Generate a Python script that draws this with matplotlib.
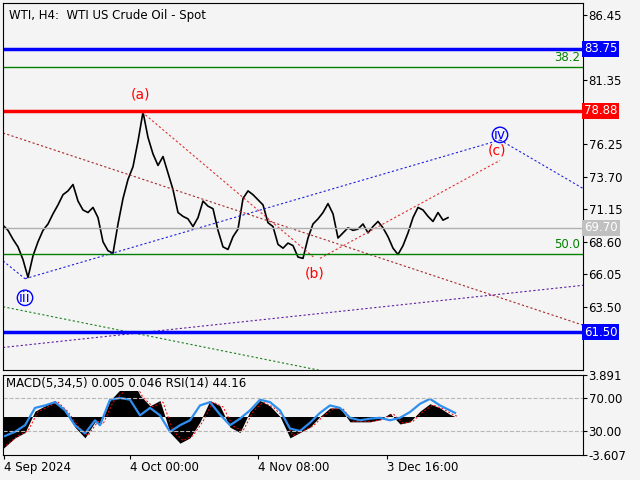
import matplotlib.pyplot as plt

# price closes, one value every 5 H4 bars
closes = [69.9, 69.5, 68.8, 68.2, 67.2, 65.8, 67.5, 68.6, 69.5, 70.0, 70.8, 71.5, 72.3, 72.6, 73.1,
          71.8, 71.1, 70.9, 71.3, 70.5, 68.6, 67.9, 67.7, 70.0, 72.0, 73.5, 74.5, 76.5, 78.8, 76.8,
          75.5, 74.6, 75.3, 74.0, 72.7, 70.9, 70.6, 70.4, 69.8, 70.5, 71.8, 71.4, 71.2, 69.5, 68.2,
          68.0, 69.0, 69.6, 72.0, 72.6, 72.3, 71.9, 71.5, 70.1, 69.8, 68.4, 68.1, 68.5, 68.3, 67.4,
          67.3, 68.9, 70.0, 70.4, 70.9, 71.6, 70.8, 68.9, 69.3, 69.7, 69.5, 69.6, 70.0, 69.3, 69.8,
          70.2, 69.7, 69.0, 68.1, 67.6, 68.3, 69.3, 70.5, 71.3, 71.1, 70.6, 70.2, 70.9, 70.3, 70.5]
close_step = 5

rsi_x = [0, 12, 22, 32, 42, 52, 62, 72, 82, 92, 97, 107, 117, 127, 137, 147, 157, 167, 177, 187,
         197, 207, 217, 227, 237, 247, 257, 267, 277, 287, 297, 307, 317, 327, 337, 347, 357, 367,
         377, 387, 397, 407, 417, 427, 437, 447, 452]
rsi = [23, 29, 37, 58, 61, 65, 55, 37, 27, 43, 37, 68, 70, 68, 49, 58, 49, 29, 37, 43,
       61, 65, 50, 37, 45, 55, 68, 65, 55, 33, 30, 40, 52, 61, 58, 46, 43, 45,
       46, 43, 46, 53, 63, 69, 61, 55, 52]
macd = [-3.0, -2.0, -1.5, 0.5, 1.0, 1.5, 0.5, -1.0, -2.0, -0.5, -0.8, 1.5, 2.5, 3.8, 2.0, 1.0, 1.5, -1.5, -2.5, -2.0,
        -0.5, 1.5, 1.0, -1.0, -1.5, 0.5, 1.5, 1.0, 0.0, -2.0, -1.5, -1.0, 0.0, 0.8, 0.8, -0.5, -0.5, -0.5,
        -0.3, 0.3, -0.7, -0.5, 0.5, 1.2, 0.8, 0.2, 0.0]

# wave lines: (bar, price) endpoints
wave_lines = [
    ((0, 77.15), (582, 62.0), '#a52a2a', (0, (2, 2))),
    ((139, 78.8), (312, 67.3), '#e03030', (0, (2, 2))),
    ((317, 67.3), (497, 75.0), '#e03030', (0, (2, 2))),
    ((22, 65.7), (497, 76.6), '#2020e0', (0, (2, 2))),
    ((497, 76.6), (582, 72.7), '#2020e0', (0, (2, 2))),
    ((0, 67.1), (22, 65.7), '#2020e0', (0, (2, 2))),
    ((0, 60.3), (582, 65.2), '#6020a0', (0, (2, 2))),
    ((0, 63.5), (317, 58.5), '#208020', (0, (2, 2))),
]
hlines = [(83.75, 'blue', 2.5), (78.88, 'red', 2.5), (61.50, 'blue', 2.5),
          (82.34, 'green', 1), (67.65, 'green', 1), (69.70, '#b0b0b0', 1)]
price_ticks = [86.45, 81.35, 76.25, 73.70, 71.15, 68.60, 66.05, 63.50]
boxes = [(83.75, 'blue', 'white'), (78.88, 'red', 'white'), (69.70, '#c0c0c0', 'white'), (61.50, 'blue', 'white')]
date_pos = [1, 127, 255, 384]
date_labels = ['4 Sep 2024', '4 Oct 00:00', '4 Nov 08:00', '3 Dec 16:00']

bg = '#f4f4f4'
fig = plt.figure(figsize=(6.4, 4.8), dpi=100, facecolor=bg)
ax = fig.add_axes([3/640, 110/480, 580/640, 367/480], facecolor=bg)
ax2 = fig.add_axes([3/640, 25/480, 580/640, 80/480], facecolor=bg)

xs = [i * close_step for i in range(len(closes))]
ax.plot(xs, closes, color='black', lw=1.2)
for (x0, y0), (x1, y1), c, ls in wave_lines:
    ax.plot([x0, x1], [y0, y1], color=c, lw=0.8, ls=ls)
for y, c, w in hlines:
    ax.axhline(y, color=c, lw=w)
ax.set_xlim(0, 580)
ax.set_ylim(58.53, 87.36)
ax.yaxis.tick_right()
ax.set_yticks(price_ticks)
ax.tick_params(axis='y', labelsize=8.5, length=3, pad=1)
ax.set_xticks([])
for y, fc, tc in boxes:
    ax.text(1.002, y, f'{y:.2f}', transform=ax.get_yaxis_transform(), fontsize=8.5, color=tc,
            va='center', ha='left', bbox=dict(boxstyle='square,pad=0.15', fc=fc, ec='none'))
ax.text(0.995, 82.55, '38.2', transform=ax.get_yaxis_transform(), color='green', fontsize=8.5, ha='right', va='bottom')
ax.text(0.995, 67.85, '50.0', transform=ax.get_yaxis_transform(), color='green', fontsize=8.5, ha='right', va='bottom')
ax.text(0.01, 0.985, 'WTI, H4:  WTI US Crude Oil - Spot', transform=ax.transAxes, fontsize=8.5, va='top')
ax.text(137, 79.6, '(a)', color='red', fontsize=10, ha='center', va='bottom')
ax.text(312, 65.6, '(b)', color='red', fontsize=10, ha='center', va='bottom')
ax.text(494, 75.2, '(c)', color='red', fontsize=10, ha='center', va='bottom')
ax.text(497, 77.0, 'iv', color='blue', fontsize=10, ha='center', va='center',
        bbox=dict(boxstyle='circle,pad=0.05', fc='none', ec='blue'))
ax.text(22, 64.2, 'iii', color='blue', fontsize=10, ha='center', va='center',
        bbox=dict(boxstyle='circle,pad=0.05', fc='none', ec='blue'))

# lower panel in RSI units; MACD mapped on its own scale
lo, hi = 0.9, 97.9
mlo, mhi = -3.607, 3.891
def m2r(v):
    return lo + (v - mlo) / (mhi - mlo) * (hi - lo)
base = m2r(0)
mv = [m2r(v) for v in macd]
ax2.fill_between(rsi_x, base, mv, color='black', lw=0)
ax2.plot([x + 3 for x in rsi_x], [m2r(v * 0.9) for v in macd], color='red', lw=0.7, ls=(0, (2, 2)))
ax2.plot(rsi_x, rsi, color='#2e8ff0', lw=1.6)
for y in (70, 30):
    ax2.axhline(y, color='#b8b8b8', lw=0.8, ls='--')
ax2.set_xlim(0, 580)
ax2.set_ylim(lo, hi)
ax2.yaxis.tick_right()
ax2.set_yticks([m2r(mhi) - 0.5, 70, 30, m2r(mlo) + 0.5])
ax2.set_yticklabels(['3.891', '70.00', '30.00', '-3.607'])
ax2.tick_params(axis='y', labelsize=8.5, length=3, pad=1)
ax2.set_xticks(date_pos)
ax2.set_xticklabels(date_labels)
ax2.tick_params(axis='x', labelsize=8.5, length=3, pad=1)
for lab in ax2.get_xticklabels():
    lab.set_horizontalalignment('left')
ax2.text(0.005, 0.97, 'MACD(5,34,5) 0.005 0.046 RSI(14) 44.16', transform=ax2.transAxes, fontsize=8.5, va='top',
         bbox=dict(fc=bg, ec='none', pad=0.5))

fig.savefig('out.png', dpi=100, facecolor=bg)
